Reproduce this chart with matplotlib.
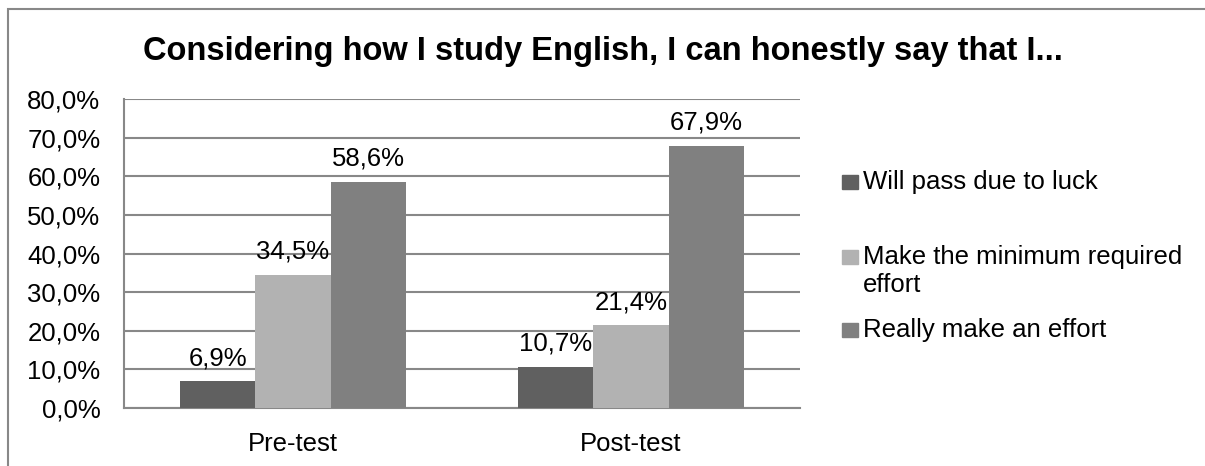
import numpy as np
import matplotlib.pyplot as plt
from matplotlib.patches import Rectangle

plt.rcParams['font.family'] = ['Liberation Sans', 'DejaVu Sans']

# Datos
categories = ['Pre-test', 'Post-test']
series_names = ['Will pass due to luck', 'Make the minimum required\neffort', 'Really make an effort']
luck = [6.9, 10.7]
minimum = [34.5, 21.4]
effort = [58.6, 67.9]
colors = ['#606060', '#b2b2b2', '#808080']

W, H = 1205, 466
fx = lambda px: px / W
fy = lambda py: 1 - py / H

fig = plt.figure(figsize=(W / 100, H / 100), dpi=100)
ax = fig.add_axes([fx(124), fy(408), 676 / W, 309 / H])

fs = 18.5
x = np.arange(len(categories))
w = 0.222
for i, (vals, c) in enumerate(zip([luck, minimum, effort], colors)):
    pos = x + (i - 1) * w
    ax.bar(pos, vals, width=w, color=c, zorder=3)
    for p, v in zip(pos, vals):
        ax.annotate(f'{v:.1f}%'.replace('.', ','), (p, v), xytext=(0, 8),
                    textcoords='offset points', ha='center', va='bottom',
                    fontsize=fs, zorder=4)

ax.set_xlim(-0.5, 1.5)
ax.set_ylim(0, 80)
ax.set_yticks(np.arange(0, 81, 10))
ax.set_yticklabels([f'{t:.1f}%'.replace('.', ',') for t in np.arange(0, 81, 10)])
ax.set_xticks(x)
ax.set_xticklabels(categories)
ax.tick_params(axis='both', length=0, labelsize=fs)
ax.tick_params(axis='x', pad=17)
ax.tick_params(axis='y', pad=17)
ax.yaxis.grid(True, color='#888888', linewidth=1.5, zorder=0)
for s in ['top', 'right']:
    ax.spines[s].set_visible(False)
for s in ['left', 'bottom']:
    ax.spines[s].set_color('#888888')
    ax.spines[s].set_linewidth(1.5)

fig.text(0.5, fy(60), 'Considering how I study English, I can honestly say that I...',
         ha='center', va='baseline', fontsize=23.5, fontweight='bold')

# Leyenda (estilo Excel: marcador alineado con la primera línea)
leg_y = [182, 257, 330]
for name, c, yy in zip(series_names, colors, leg_y):
    fig.patches.append(Rectangle((fx(842), fy(yy + 7)), 16 / W, 14 / H,
                                 transform=fig.transFigure, color=c))
    for k, line in enumerate(name.split('\n')):
        fig.text(fx(863), fy(yy + 28 * k), line, ha='left', va='center',
                 fontsize=fs)

# marco exterior
fig.patches.append(Rectangle((fx(8), -0.1), 1.2, 1.1 - 9 / H, transform=fig.transFigure,
                             fill=False, edgecolor='#888888', linewidth=1.5))

fig.savefig('out.png', dpi=100)
